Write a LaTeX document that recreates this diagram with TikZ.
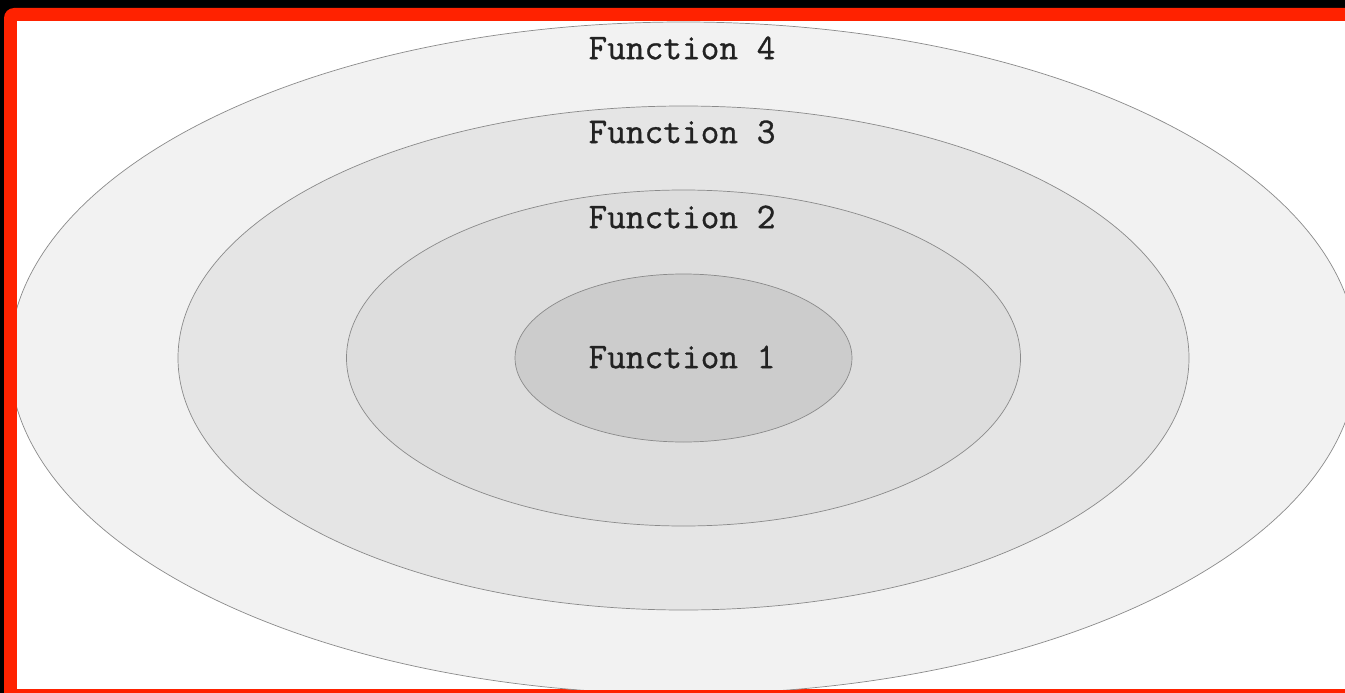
\documentclass[tikz,border=0pt]{standalone}
\usepackage{fontspec}
\usetikzlibrary{shapes.geometric}
\newfontfamily\labelmono{Latin Modern Mono}[FakeBold=0.9]
\definecolor{frame}{HTML}{FF2200}
\definecolor{ringA}{HTML}{CCCCCC}
\definecolor{ringB}{HTML}{DDDDDD}
\definecolor{ringC}{HTML}{E5E5E5}
\definecolor{ringD}{HTML}{F2F2F2}
\definecolor{rim}{HTML}{8A8A8A}
\definecolor{ink}{HTML}{222222}
\tikzset{
  ring/.style={ellipse, draw=rim, line width=0.7pt, inner sep=0pt, outer sep=0pt},
  lbl/.style={text=ink, inner sep=0pt, font=\labelmono\fontsize{36.3}{40}\selectfont}
}
\begin{document}
\begin{tikzpicture}[x=1pt, y=-1pt]
  \useasboundingbox (0,0) rectangle (1345,693);
  % screen background and red frame
  \fill[black] (0,0) rectangle (1345,693);
  \fill[frame, rounded corners=10pt] (4,8) rectangle (1365,713);
  \fill[white] (17,21) rectangle (1345,689);
  \begin{scope}
    \clip (17,21) rectangle (1345,689);
    \node[ring, fill=ringD, minimum width=1348pt, minimum height=672pt] (r4) at (683.5,358) {};
    \node[ring, fill=ringC, minimum width=1011pt, minimum height=504pt] (r3) at (683.5,358) {};
    \node[ring, fill=ringB, minimum width=674pt, minimum height=336pt] (r2) at (683.5,358) {};
    \node[ring, fill=ringA, minimum width=337pt, minimum height=168pt] (r1) at (683.5,358) {};
  \end{scope}
  \node[lbl] (t4) at (682,48) {Function 4};
  \node[lbl] (t3) at (682,132) {Function 3};
  \node[lbl] (t2) at (682,217) {Function 2};
  \node[lbl] (t1) at (682,357) {Function 1};
\end{tikzpicture}
\end{document}
